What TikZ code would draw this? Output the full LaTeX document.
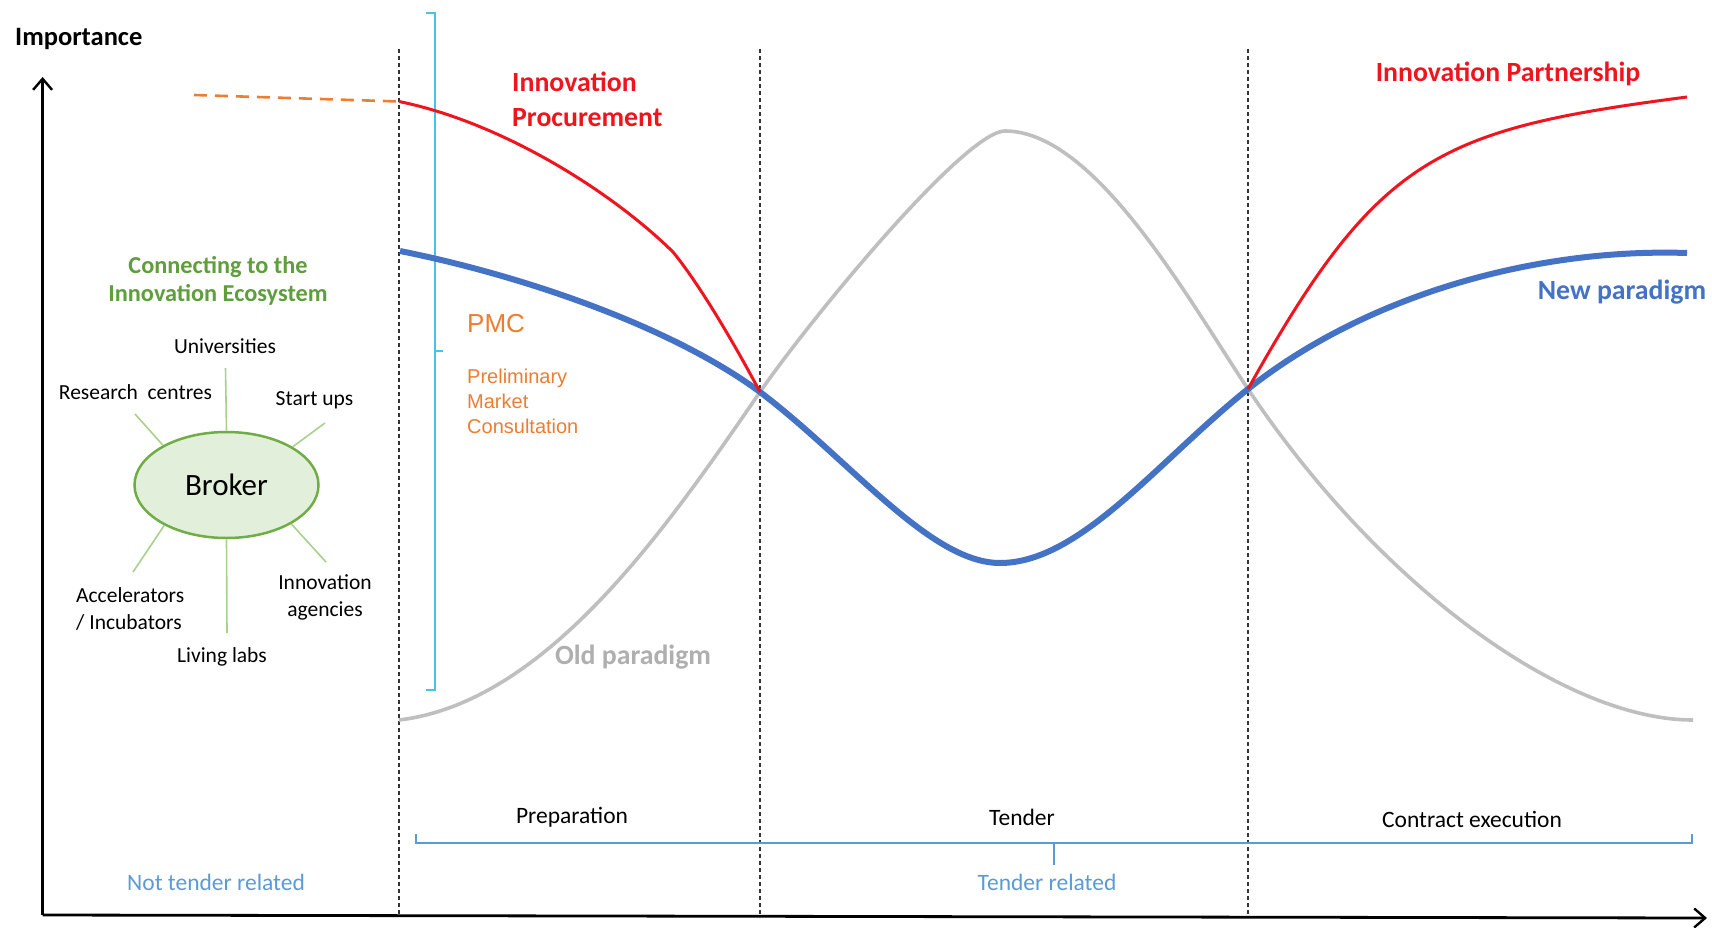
\documentclass[tikz,border=0pt]{standalone}
\usepackage{fontspec}
\setmainfont{Carlito}
\newfontfamily\arialf{Liberation Sans}
\usetikzlibrary{arrows.meta,shapes.geometric}
\definecolor{cRed}{HTML}{F0141E}
\definecolor{cBlue}{HTML}{4472C4}
\definecolor{cGray}{HTML}{BFBFBF}
\definecolor{cGrayText}{HTML}{AFAFAF}
\definecolor{cOrange}{HTML}{ED7D31}
\definecolor{cGreenText}{HTML}{5E9E3C}
\definecolor{cGreen}{HTML}{70AD47}
\definecolor{cGreenFill}{HTML}{E2EFDA}
\definecolor{cSpoke}{HTML}{A9D18E}
\definecolor{cCyan}{HTML}{47C2EA}
\definecolor{cLightBlue}{HTML}{5B9BD5}
\definecolor{cDash}{HTML}{333333}
\tikzset{
  lbl/.style={inner sep=0pt, text=black, font=\fontsize{21.5}{27}\selectfont},
  phase/.style={inner sep=0pt, text=black, font=\fontsize{23.5}{28}\selectfont},
  bigbold/.style={inner sep=0pt, font=\bfseries\fontsize{27.8}{35}\selectfont},
  phaseline/.style={cDash, line width=1.3pt, dash pattern=on 4pt off 3pt},
  axisline/.style={black, line width=2.8pt, -{Straight Barb[length=11pt,width=19pt,line width=2.4pt]}},
  spoke/.style={cSpoke, line width=1.6pt},
}
\begin{document}
\begin{tikzpicture}[x=1pt,y=-1pt]
\useasboundingbox (0,0) rectangle (1712,928);
\fill[white] (0,0) rectangle (1712,928);

% phase separators
\coordinate (v1t) at (399,49);  \coordinate (v1b) at (399,915);
\coordinate (v2t) at (760,49);  \coordinate (v2b) at (760,915);
\coordinate (v3t) at (1248,49); \coordinate (v3b) at (1248,915);
\draw[phaseline] (v1t) -- (v1b);
\draw[phaseline] (v2t) -- (v2b);
\draw[phaseline] (v3t) -- (v3b);

% axes
\coordinate (origin) at (42.6,915);
\coordinate (ytip) at (42.6,77);
\coordinate (xtip) at (1707,918);
\draw[axisline] (origin) -- (ytip);
\draw[axisline] (origin) -- (xtip);
\node[inner sep=0pt, anchor=west, font=\bfseries\fontsize{26.5}{30}\selectfont] (imp) at (15,39) {Importance};

% cyan PMC bracket
\coordinate (cb1) at (426,13); \coordinate (cb2) at (435,13);
\coordinate (cb3) at (435,690); \coordinate (cb4) at (426,690);
\coordinate (cbm) at (435,351); \coordinate (cbm2) at (443,351);
\draw[cCyan, line width=2pt] (cb1) -- (cb2) -- (cb3) -- (cb4);
\draw[cCyan, line width=2pt] (cbm) -- (cbm2);

% orange dashed lead-in
\coordinate (od1) at (194,95); \coordinate (od2) at (399,101.5);
\draw[cOrange, line width=2.6pt, dash pattern=on 13pt off 8pt] (od1) -- (od2);

% key points
\coordinate (gs) at (399,720);
\coordinate (x1) at (760,392);
\coordinate (gpk) at (1005,131);
\coordinate (x2) at (1248,389);
\coordinate (ge) at (1693,720);
\coordinate (bs) at (400,251);
\coordinate (bmin) at (1000,563);
\coordinate (be) at (1687,253);
\coordinate (r0) at (399,101.5);
\coordinate (r1) at (673,252);
\coordinate (re) at (1687,97);

% old paradigm (gray)
\draw[cGray, line width=3.6pt] (gs) .. controls (549,702) and (670,522.5) .. (x1)
  .. controls (810,319.5) and (965,131) .. (gpk)
  .. controls (1095,131) and (1188,299) .. (x2)
  .. controls (1378,584) and (1563,720) .. (ge);

% new paradigm (blue)
\draw[cBlue, line width=6pt] (bs) .. controls (520,275) and (670,325.5) .. (x1)
  .. controls (850,460) and (930,563) .. (bmin)
  .. controls (1080,563) and (1158,461) .. (x2)
  .. controls (1368,294) and (1537,248) .. (be);

% innovation procurement (red, left)
\draw[cRed, line width=3pt] (r0) .. controls (500,122) and (610,190) .. (r1)
   .. controls (700,285) and (735,345) .. (x1);

% innovation partnership (red, right)
\draw[cRed, line width=3pt] (x2) .. controls (1378,156) and (1437,129.5) .. (re);

% curve labels
\node[bigbold, text=cRed, anchor=west, align=left] (ip) at (512,99.5) {Innovation\\Procurement};
\node[bigbold, text=cRed] (ipart) at (1508,74) {Innovation Partnership};
\node[bigbold, text=cBlue] (newp) at (1622,292) {New paradigm};
\node[bigbold, text=cGrayText] (oldp) at (633,657) {Old paradigm};

% PMC
\node[inner sep=0pt, anchor=west, text=cOrange, font=\arialf\fontsize{26}{30}\selectfont] (pmc) at (467,324) {PMC};
\node[inner sep=0pt, anchor=west, align=left, text=cOrange, font=\arialf\fontsize{20}{25}\selectfont] (pmctext) at (467,401) {Preliminary\\Market\\Consultation};

% ecosystem
\node[inner sep=0pt, align=center, text=cGreenText, font=\bfseries\fontsize{24.3}{28}\selectfont] (eco) at (218,281) {Connecting to the\\Innovation Ecosystem};
\node[ellipse, draw=cGreen, fill=cGreenFill, line width=2.5pt, minimum width=184pt, minimum height=106pt, inner sep=0pt, font=\fontsize{31}{36}\selectfont] (broker) at (226.5,485) {Broker};

\coordinate (sUni) at (225.5,368);
\coordinate (sRes) at (135,414);
\coordinate (sStart) at (325,423);
\coordinate (sAcc) at (133,572);
\coordinate (sAg) at (326,562);
\coordinate (sLiv) at (227,633);
\draw[spoke] (broker.north) -- (sUni);
\draw[spoke] (broker.148) -- (sRes);
\draw[spoke] (broker.30) -- (sStart);
\draw[spoke] (broker.213) -- (sAcc);
\draw[spoke] (broker.-31) -- (sAg);
\draw[spoke] (broker.south) -- (sLiv);

\node[lbl] (uni) at (225,346) {Universities};
\node[lbl] (res) at (135.5,392) {Research\ \ centres};
\node[lbl] (start) at (314.5,400) {Start ups};
\node[lbl, anchor=west, align=left] (acc) at (76,608.5) {Accelerators\\/ Incubators};
\node[lbl, align=center] (ag) at (325,597) {Innovation\\agencies};
\node[lbl] (liv) at (222,657) {Living labs};

% phases
\node[phase] (prep) at (572,817) {Preparation};
\node[phase] (tend) at (1022,817) {Tender};
\node[phase] (contr) at (1472,819) {Contract execution};

% tender related brace
\coordinate (b1) at (416,834); \coordinate (b2) at (416,843);
\coordinate (b3) at (1692,843); \coordinate (b4) at (1692,834);
\coordinate (bm1) at (1054,843); \coordinate (bm2) at (1054,865);
\draw[cLightBlue, line width=2.4pt] (b1) -- (b2) -- (b3) -- (b4);
\draw[cLightBlue, line width=2pt] (bm1) -- (bm2);
\node[phase, text=cLightBlue] (ntr) at (216,882) {Not tender related};
\node[phase, text=cLightBlue] (tr) at (1047,882) {Tender related};
\end{tikzpicture}
\end{document}
